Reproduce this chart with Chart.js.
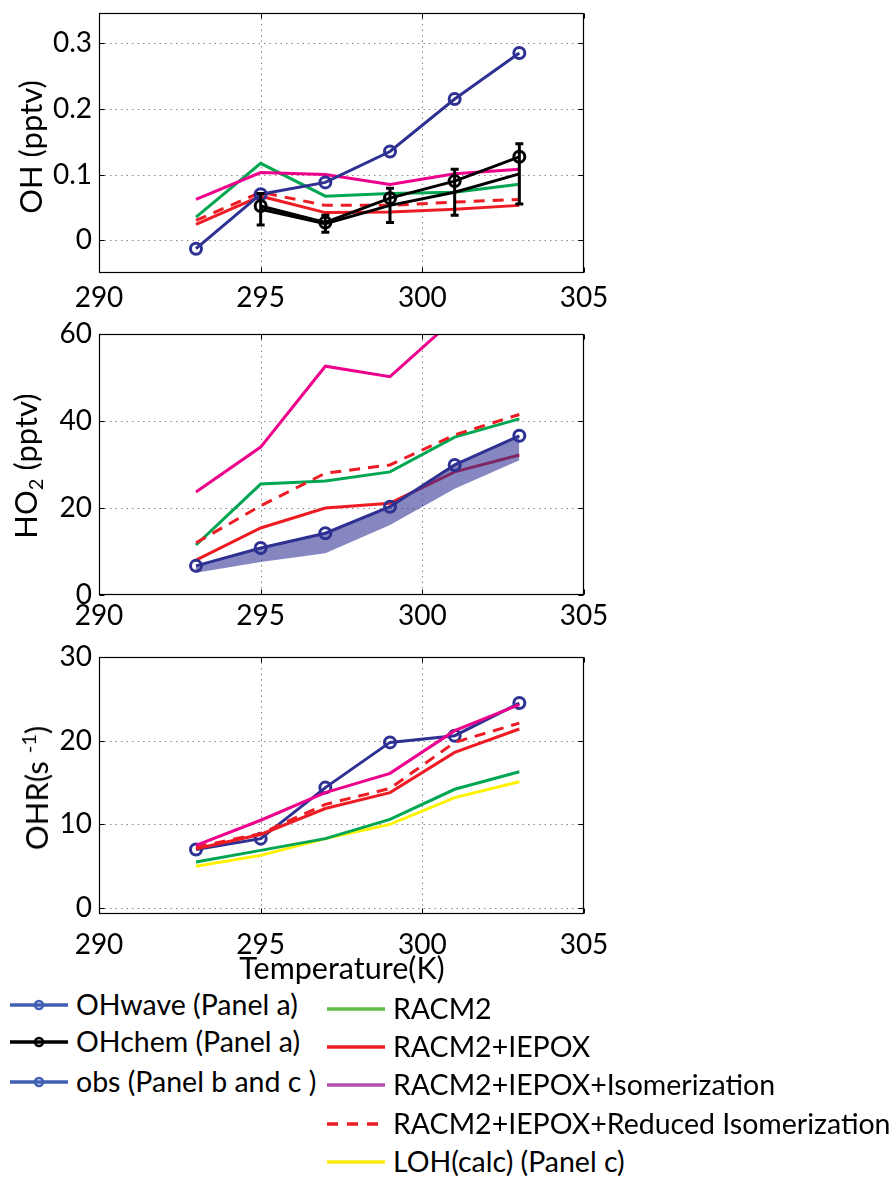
<!DOCTYPE html>
<html>
<head>
<meta charset="utf-8">
<script src="https://cdn.jsdelivr.net/npm/chart.js@4.4.1/dist/chart.umd.min.js"></script>
<style>
  html,body{margin:0;padding:0;background:#fff;}
  body{width:896px;height:1179px;position:relative;overflow:hidden;font-family:Lato,"Open Sans",sans-serif;color:#000;}
  .cv{position:absolute;left:0;}
  .yt{position:absolute;transform:translate(-50%,-50%) rotate(-90deg);white-space:nowrap;font-size:31px;line-height:34px;}
  .xt{position:absolute;transform:translate(-50%,-50%);white-space:nowrap;font-size:30.5px;line-height:34px;}
  .lg{position:absolute;white-space:nowrap;font-size:28.5px;line-height:30px;}
  .sw{position:absolute;}
  sub{font-size:20px;vertical-align:-6px;}
  sup{font-size:20px;vertical-align:12px;}
</style>
</head>
<body>
<div id="c1w" class="cv" style="top:0;width:620px;height:320px;"><canvas id="c1"></canvas></div>
<div id="c2w" class="cv" style="top:320px;width:620px;height:320px;"><canvas id="c2"></canvas></div>
<div id="c3w" class="cv" style="top:640px;width:620px;height:320px;"><canvas id="c3"></canvas></div>

<div class="yt" style="left:30px;top:147px;">OH (pptv)</div>
<div class="yt" style="left:30px;top:466px;">HO<sub>2</sub> (pptv)</div>
<div class="yt" style="left:32px;top:788px;">OHR(s <sup>-1</sup>)</div>
<div class="xt" style="left:342px;top:967px;">Temperature(K)</div>

<div id="legend"></div>

<script>
// ---------------- data ----------------
const temps = [293, 295, 297, 299, 301, 303];
const xTicks = [290, 295, 300, 305];

// Panel a: OH (pptv)
const ohTicks = [0, 0.1, 0.2, 0.3];
const ohWave = [-0.013, 0.070, 0.088, 0.135, 0.215, 0.285];
const ohChem = [null, 0.052, 0.027, 0.064, 0.090, 0.127];
const ohChemB = [null, 0.047, 0.025, 0.053, 0.073, 0.101];
const ohChemErr = [null, 0.024, 0.013, 0.026, 0.035, 0.046];
const ohRacm2 = [0.035, 0.117, 0.067, 0.071, 0.073, 0.085];
const ohIepox = [0.024, 0.067, 0.042, 0.043, 0.047, 0.053];
const ohIsom = [0.062, 0.103, 0.100, 0.085, 0.101, 0.108];
const ohRedIsom = [0.030, 0.073, 0.053, 0.053, 0.058, 0.062];

// Panel b: HO2 (pptv)
const ho2Ticks = [0, 20, 40, 60];
const ho2Obs = [6.7, 10.8, 14.2, 20.3, 29.9, 36.6];
const ho2ObsLow = [5.1, 7.6, 9.6, 16.1, 24.4, 31.0];
const ho2Racm2 = [11.5, 25.5, 26.2, 28.3, 36.3, 40.5];
const ho2Iepox = [8.0, 15.4, 20.0, 21.1, 28.3, 32.2];
const ho2Isom = [23.7, 34.0, 52.6, 50.2, 63.5, 70.0];
const ho2RedIsom = [12.0, 20.5, 28.0, 29.9, 36.8, 41.5];

// Panel c: OHR (s-1)
const ohrTicks = [0, 10, 20, 30];
const ohrObs = [7.0, 8.3, 14.4, 19.8, 20.6, 24.5];
const ohrRacm2 = [5.5, 6.9, 8.3, 10.6, 14.2, 16.3];
const ohrIepox = [7.1, 8.8, 11.9, 13.8, 18.6, 21.4];
const ohrIsom = [7.5, 10.5, 13.8, 16.1, 21.2, 24.3];
const ohrRedIsom = [7.3, 8.9, 12.4, 14.3, 19.8, 22.1];
const ohrLoh = [5.0, 6.3, 8.3, 10.0, 13.2, 15.1];

// legend
const legendCol1 = ['OHwave (Panel a)', 'OHchem (Panel a)', 'obs (Panel b and c )'];
const legendCol2 = ['RACM2', 'RACM2+IEPOX', 'RACM2+IEPOX+Isomerization',
                    'RACM2+IEPOX+Reduced Isomerization', 'LOH(calc) (Panel c)'];

// ---------------- styles ----------------
const NAVY = '#2e3192', GREEN = '#00a651', RED = '#ed1c24', MAG = '#ec008c', YEL = '#fff200', BLK = '#000';

Chart.defaults.font.family = 'Lato, "Open Sans", sans-serif';
Chart.defaults.font.size = 28;
Chart.defaults.color = '#000';
Chart.defaults.animation = false;

const pts = arr => temps.map((t, i) => ({x: t, y: arr[i]}));

function line(label, arr, color, extra) {
  return Object.assign({
    label, data: pts(arr), borderColor: color, backgroundColor: color,
    borderWidth: 3, pointRadius: 0, tension: 0, fill: false
  }, extra || {});
}
function circ(label, arr, color, extra) {
  return line(label, arr, color, Object.assign({
    pointRadius: 5.5, pointBorderWidth: 3, pointBackgroundColor: 'rgba(0,0,0,0)',
    pointBorderColor: color, pointHoverRadius: 5.5
  }, extra || {}));
}

const framePlugin = {
  id: 'frame',
  beforeDatasetsDraw(chart, args, opts) {
    const {ctx, chartArea: a, scales: {x, y}} = chart;
    ctx.save();
    ctx.strokeStyle = '#8a8a8a';
    ctx.lineWidth = 1;
    ctx.setLineDash([1.5, 4]);
    xTicks.forEach(v => {
      const px = Math.round(x.getPixelForValue(v)) + 0.5;
      if (px <= a.left + 2 || px >= a.right - 2) return;
      ctx.beginPath(); ctx.moveTo(px, a.top); ctx.lineTo(px, a.bottom); ctx.stroke();
    });
    opts.yt.forEach(v => {
      const py = Math.round(y.getPixelForValue(v)) + 0.5;
      if (py <= a.top + 2 || py >= a.bottom - 2) return;
      ctx.beginPath(); ctx.moveTo(a.left, py); ctx.lineTo(a.right, py); ctx.stroke();
    });
    ctx.restore();
  },
  afterDraw(chart, args, opts) {
    const {ctx, chartArea: a, scales: {x, y}} = chart;
    ctx.save();
    ctx.strokeStyle = '#000';
    ctx.lineWidth = 1.2;
    ctx.setLineDash([]);
    const L = Math.round(a.left) + 0.5, R = Math.round(a.right) - 0.5,
          T = Math.round(a.top) + 0.5, B = Math.round(a.bottom) - 0.5;
    ctx.strokeRect(L, T, R - L, B - T);
    ctx.lineWidth = 1;
    ctx.beginPath();
    xTicks.forEach(v => {
      const px = Math.round(x.getPixelForValue(v)) + 0.5;
      ctx.moveTo(px, B); ctx.lineTo(px, B - 5);
      ctx.moveTo(px, T); ctx.lineTo(px, T + 5);
    });
    opts.yt.forEach(v => {
      const py = Math.round(y.getPixelForValue(v)) + 0.5;
      ctx.moveTo(L, py); ctx.lineTo(L + 5, py);
      ctx.moveTo(R, py); ctx.lineTo(R - 5, py);
    });
    ctx.stroke();
    ctx.restore();
  }
};

const errPlugin = {
  id: 'errbars',
  afterDatasetsDraw(chart, args, opts) {
    if (!opts.on) return;
    const {ctx, scales: {x, y}} = chart;
    ctx.save();
    ctx.strokeStyle = '#000';
    ctx.lineWidth = 3;
    temps.forEach((t, i) => {
      if (ohChemB[i] == null) return;
      const px = x.getPixelForValue(t);
      const yHi = y.getPixelForValue(ohChemB[i] + ohChemErr[i]);
      const yLo = y.getPixelForValue(ohChemB[i] - ohChemErr[i]);
      ctx.beginPath();
      ctx.moveTo(px, yLo); ctx.lineTo(px, yHi);
      ctx.moveTo(px - 4, yLo); ctx.lineTo(px + 4, yLo);
      ctx.moveTo(px - 4, yHi); ctx.lineTo(px + 4, yHi);
      ctx.stroke();
    });
    ctx.restore();
  }
};

function makeChart(id, datasets, yMin, yMax, yt, top, xHeight, xPad, err) {
  return new Chart(document.getElementById(id), {
    type: 'line',
    data: {datasets},
    plugins: [framePlugin, errPlugin],
    options: {
      responsive: true, maintainAspectRatio: false,
      layout: {padding: {top: top, right: 36, left: 0, bottom: 0}},
      plugins: {legend: {display: false}, tooltip: {enabled: false},
                frame: {yt}, errbars: {on: err}},
      scales: {
        x: {type: 'linear', min: 290, max: 305,
            grid: {display: false}, border: {display: false},
            afterBuildTicks: ax => { ax.ticks = xTicks.map(v => ({value: v})); },
            afterFit: ax => { ax.height = xHeight; ax.paddingLeft = 0; ax.paddingRight = 0; },
            ticks: {padding: xPad, maxRotation: 0, autoSkip: false,
                    callback: v => String(v)}},
        y: {type: 'linear', min: yMin, max: yMax,
            grid: {display: false, drawTicks: false}, border: {display: false},
            afterBuildTicks: ax => { ax.ticks = yt.map(v => ({value: v})); },
            afterFit: ax => { ax.width = 99; ax.paddingTop = 0; ax.paddingBottom = 0; },
            ticks: {padding: 7, autoSkip: false, callback: v => String(v)}}
      }
    }
  });
}

// Panel a  (lower order = drawn on top)
makeChart('c1', [
  line('RACM2', ohRacm2, GREEN, {order: 6}),
  line('RACM2+IEPOX+Isomerization', ohIsom, MAG, {order: 5}),
  line('RACM2+IEPOX', ohIepox, RED, {order: 4}),
  line('RACM2+IEPOX+Reduced Isomerization', ohRedIsom, RED, {order: 3, borderDash: [11, 8]}),
  circ('OHwave', ohWave, NAVY, {order: 2}),
  line('OHchem line', ohChemB, BLK, {order: 1}),
  circ('OHchem', ohChem, BLK, {order: 0})
], -0.05, 0.346, ohTicks, 13, 47, 0, true);

// Panel b
makeChart('c2', [
  line('RACM2+IEPOX', ho2Iepox, RED, {order: 9}),
  line('obs low', ho2ObsLow, 'rgba(46,49,146,0)', {order: 8, borderWidth: 0,
        fill: 5, backgroundColor: 'rgba(46,49,146,0.58)'}),
  line('RACM2+IEPOX+Isomerization', ho2Isom, MAG, {order: 4}),
  line('RACM2', ho2Racm2, GREEN, {order: 3}),
  line('RACM2+IEPOX+Reduced Isomerization', ho2RedIsom, RED, {order: 2, borderDash: [11, 8]}),
  circ('obs', ho2Obs, NAVY, {order: 1})
], 0, 60, ho2Ticks, 14, 45, -4, false);

// Panel c
makeChart('c3', [
  line('LOH(calc)', ohrLoh, YEL, {order: 7}),
  line('RACM2', ohrRacm2, GREEN, {order: 6}),
  circ('obs', ohrObs, NAVY, {order: 5}),
  line('RACM2+IEPOX', ohrIepox, RED, {order: 4}),
  line('RACM2+IEPOX+Reduced Isomerization', ohrRedIsom, RED, {order: 3, borderDash: [11, 8]}),
  line('RACM2+IEPOX+Isomerization', ohrIsom, MAG, {order: 2})
], -0.7, 30, ohrTicks, 17, 46, 6, false);

// ---------------- legend (HTML) ----------------
const lg = document.getElementById('legend');
function swatch(x, y, w, color, opts) {
  opts = opts || {};
  const dash = opts.dash ? ' stroke-dasharray="' + opts.dash + '"' : '';
  let s = '<svg class="sw" style="left:' + x + 'px;top:' + (y - 8) + 'px" width="' + w + '" height="16">' +
          '<line x1="0" y1="8" x2="' + w + '" y2="8" stroke="' + color + '" stroke-width="3.5"' + dash + '/>';
  if (opts.marker) s += '<circle cx="' + (w / 2) + '" cy="8" r="4" fill="none" stroke="' + color + '" stroke-width="2.5"/>';
  s += '</svg>';
  return s;
}
function text(x, y, t) {
  return '<div class="lg" style="left:' + x + 'px;top:' + (y - 15) + 'px">' + t + '</div>';
}
const col1Y = [1005, 1042, 1082];
const col1C = ['#3f5fb4', '#000', '#3f5fb4'];
const col2Y = [1009, 1047, 1085, 1124, 1162];
const col2C = ['#62bd48', '#ec1c24', '#b24fae', '#ec1c24', '#f7ea10'];
let html = '';
legendCol1.forEach((t, i) => {
  html += swatch(10, col1Y[i], 58, col1C[i], {marker: true});
  html += text(76, col1Y[i] - 1, t);
});
legendCol2.forEach((t, i) => {
  html += swatch(327, col2Y[i], 58, col2C[i], {dash: i === 3 ? '11,9' : null});
  html += text(393, col2Y[i] - 1, t);
});
lg.innerHTML = html;
</script>
</body>
</html>
